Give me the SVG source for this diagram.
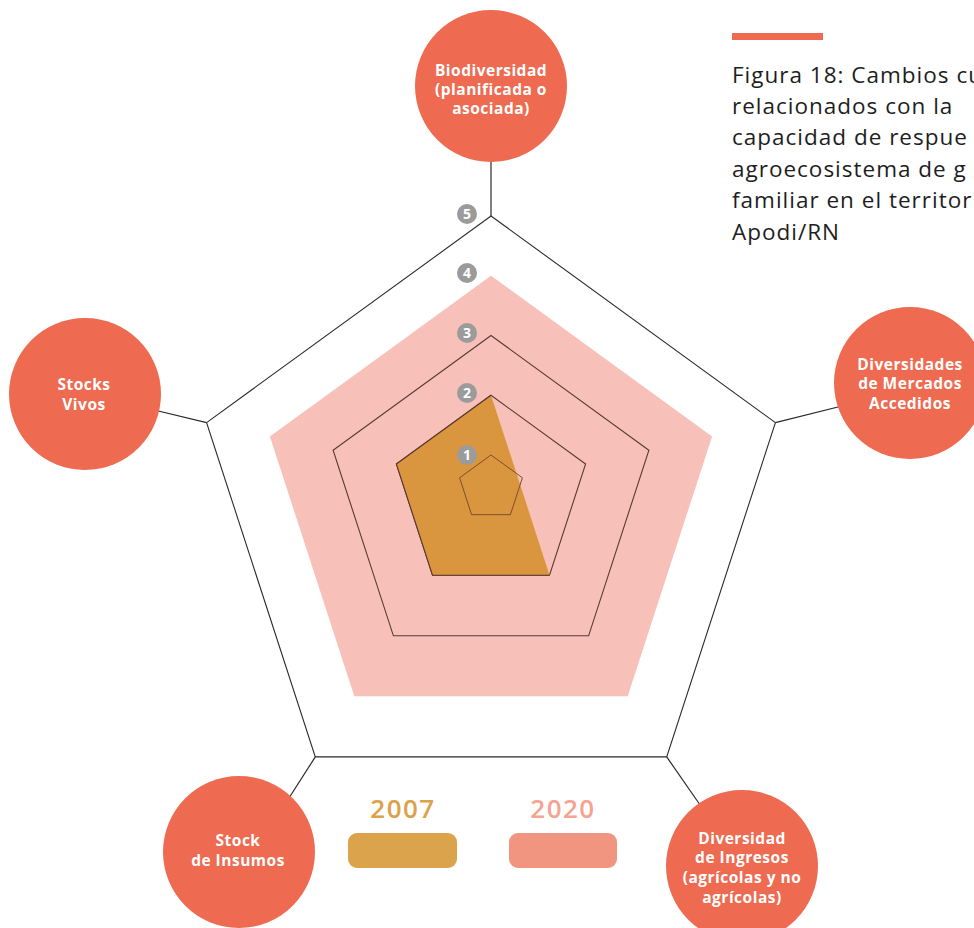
<svg xmlns="http://www.w3.org/2000/svg" width="974" height="928" viewBox="0 0 974 928">
<style>
.node{fill:#EE6A50}
.nl{font-family:"Open Sans","Noto Sans","Liberation Sans",sans-serif;font-weight:700;font-size:15.5px;letter-spacing:0.5px;fill:#fff;text-anchor:middle}
.axis{stroke:#2b2b2b;stroke-width:1.2;fill:none}
.ring{fill:none;stroke:#5a3a30;stroke-width:1.1}
.lvl circle{fill:#9b9b9b}
.lvl text{font-family:"Open Sans","Liberation Sans",sans-serif;font-weight:700;font-size:14px;fill:#fff;text-anchor:middle}
.title{font-family:"Open Sans","Noto Sans","Liberation Sans",sans-serif;font-size:22.5px;letter-spacing:1px;fill:#1e1e1e}
.leg{font-family:"Open Sans","Liberation Sans",sans-serif;font-weight:600;font-size:26px;letter-spacing:1.5px;text-anchor:middle}
</style>
<rect width="974" height="928" fill="#fff"/>
<g id="connectors">
<line class="axis" x1="491" y1="150" x2="491" y2="216" stroke-width="2"/>
<line class="axis" x1="206.6" y1="422.6" x2="150" y2="409"/>
<line class="axis" x1="775.4" y1="422.6" x2="850" y2="404"/>
<line class="axis" x1="315.3" y1="756.9" x2="280" y2="812"/>
<line class="axis" x1="666.7" y1="756.9" x2="705" y2="812"/>
</g>
<g id="chart">
<polygon points="491,216 775.4,422.6 666.7,756.9 315.3,756.9 206.6,422.6" fill="none" stroke="#2b2b2b" stroke-width="1.1"/>
<polygon id="area2020" points="491,275.75 712.1,436.4 627.7,696.3 354.3,696.3 269.9,436.4" fill="#F7C0B8"/>
<polygon class="ring" points="491,335.5 648.9,450.2 588.6,635.8 393.4,635.8 333.1,450.2"/>
<polygon class="ring" points="491,395.25 585.6,464 549.5,575.25 432.5,575.25 396.4,464"/>
<polygon id="area2007" points="491,395.25 518,478 549.5,575.25 432.5,575.25 396.4,464" fill="#DA963E"/>
<polyline points="491,395.25 396.4,464 432.5,575.25 549.5,575.25" fill="none" stroke="#5a3a30" stroke-width="1.1"/>
<polygon points="491,455 522.4,477.8 510.4,514.7 471.6,514.7 459.6,477.8" fill="none" stroke="#7a4f2e" stroke-width="1"/>
</g>
<g id="levels" class="lvl">
<circle cx="467" cy="214" r="10"/><text x="467" y="219">5</text>
<circle cx="467" cy="273" r="10"/><text x="467" y="278">4</text>
<circle cx="467" cy="333" r="10"/><text x="467" y="338">3</text>
<circle cx="467" cy="393" r="10"/><text x="467" y="398">2</text>
<circle cx="467" cy="455" r="10"/><text x="467" y="460">1</text>
</g>
<g id="n-biodiversidad">
<circle class="node" cx="491" cy="86" r="76"/>
<text class="nl" x="491" y="76">Biodiversidad</text>
<text class="nl" x="491" y="95">(planificada o</text>
<text class="nl" x="491" y="114">asociada)</text>
</g>
<g id="n-stocks-vivos">
<circle class="node" cx="85" cy="394" r="76"/>
<text class="nl" x="84" y="390">Stocks</text>
<text class="nl" x="84" y="410">Vivos</text>
</g>
<g id="n-mercados">
<circle class="node" cx="910" cy="383" r="76"/>
<text class="nl" x="910" y="370">Diversidades</text>
<text class="nl" x="910" y="389">de Mercados</text>
<text class="nl" x="910" y="409">Accedidos</text>
</g>
<g id="n-insumos">
<circle class="node" cx="239" cy="852" r="76"/>
<text class="nl" x="238" y="846">Stock</text>
<text class="nl" x="238" y="866">de Insumos</text>
</g>
<g id="n-ingresos">
<circle class="node" cx="742" cy="866" r="76"/>
<text class="nl" x="742" y="844">Diversidad</text>
<text class="nl" x="742" y="863">de Ingresos</text>
<text class="nl" x="742" y="883">(agrícolas y no</text>
<text class="nl" x="742" y="903">agrícolas)</text>
</g>
<g id="legend">
<text class="leg" x="403" y="818" fill="#DBA24B">2007</text>
<rect x="348" y="833" width="109" height="35" rx="9" fill="#DBA34B"/>
<text class="leg" x="563" y="818" fill="#F4A491">2020</text>
<rect x="509" y="833" width="108" height="35" rx="9" fill="#F29580"/>
</g>
<g id="title">
<rect x="732" y="33" width="91" height="7" fill="#EE6A50"/>
<text class="title" x="732" y="83">Figura 18: Cambios cu</text>
<text class="title" x="732" y="114">relacionados con la</text>
<text class="title" x="732" y="145">capacidad de respue</text>
<text class="title" x="732" y="177">agroecosistema de g</text>
<text class="title" x="732" y="208">familiar en el territori</text>
<text class="title" x="732" y="240">Apodi/RN</text>
</g>
</svg>
